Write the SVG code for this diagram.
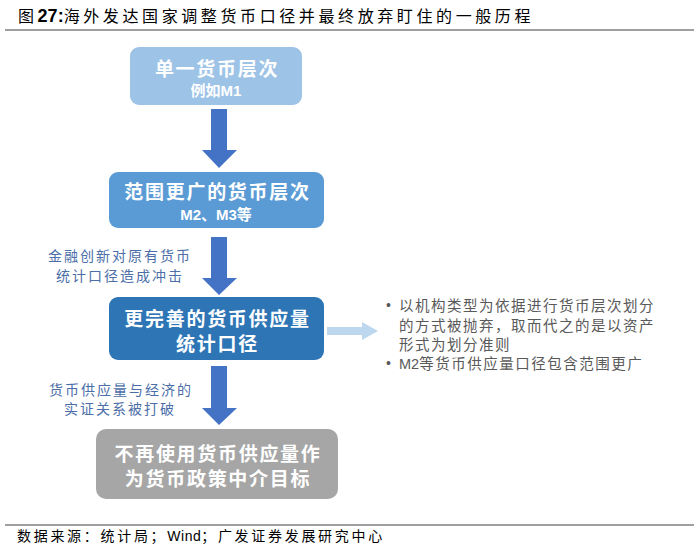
<svg xmlns="http://www.w3.org/2000/svg" width="700" height="547" viewBox="0 0 700 547">
<style>
.cjk{font-family:"Noto Sans CJK SC","Liberation Sans",sans-serif}
.title{font-size:16px;fill:#000;letter-spacing:3.6px}
.num{font-family:"Liberation Sans",Arial,sans-serif;font-weight:bold}
.box-t{font-size:19px;fill:#fff;font-weight:bold;letter-spacing:1.7px;text-anchor:middle}
.box-s{font-size:15px;fill:#fff;font-weight:bold;text-anchor:middle}
.lbl{font-size:14px;fill:#4B6EA8;letter-spacing:2px;text-anchor:middle}
.bul{font-size:14.5px;fill:#595959;letter-spacing:1.5px}
.dot{font-family:"Liberation Sans",Arial,sans-serif;font-size:14px;fill:#595959}
.src{font-size:14px;fill:#000;letter-spacing:2.7px}
.rule{stroke:#7F7F7F;stroke-width:1.3}
.down{fill:#4472C4}
</style>
<text class="cjk title" x="18" y="22">图<tspan class="num" font-size="18" letter-spacing="0">27:</tspan>海外发达国家调整货币口径并最终放弃盯住的一般历程</text>
<line class="rule" x1="5" y1="30" x2="694" y2="30"/>

<g id="connectors">
<polygon class="down" points="211,109 227,109 227,150 237,150 219,168 202,150 211,150"/>
<polygon class="down" points="211,237 227,237 227,278 237,278 219,295 202,278 211,278"/>
<polygon class="down" points="211,366 227,366 227,408 237,408 219,425 202,408 211,408"/>
<polygon fill="#BDD7EE" points="327,327 362,327 362,322 378,331 362,340 362,335 327,335"/>
<text class="cjk lbl" x="120" y="261">金融创新对原有货币</text>
<text class="cjk lbl" x="120" y="281">统计口径造成冲击</text>
<text class="cjk lbl" x="121" y="395">货币供应量与经济的</text>
<text class="cjk lbl" x="120" y="414">实证关系被打破</text>
</g>

<g id="node1">
<rect x="130" y="47" width="172" height="58" rx="9" fill="#9DC3E6"/>
<text class="cjk box-t" x="217" y="76">单一货币层次</text>
<text class="cjk box-s" x="216" y="96">例如<tspan class="num">M1</tspan></text>
</g>
<g id="node2">
<rect x="109" y="172" width="215" height="56" rx="9" fill="#5B9BD5"/>
<text class="cjk box-t" x="217.5" y="199">范围更广的货币层次</text>
<text class="cjk box-s" x="216" y="220"><tspan class="num">M2</tspan>、<tspan class="num">M3</tspan>等</text>
</g>
<g id="node3">
<rect x="109" y="297" width="215" height="63" rx="9" fill="#2E75B6"/>
<text class="cjk box-t" x="217.5" y="326">更完善的货币供应量</text>
<text class="cjk box-t" x="217.5" y="351">统计口径</text>
</g>
<g id="node4">
<rect x="96" y="429" width="242" height="70" rx="10" fill="#A6A6A6"/>
<text class="cjk box-t" x="218" y="461">不再使用货币供应量作</text>
<text class="cjk box-t" x="218" y="486">为货币政策中介目标</text>
</g>

<g id="notes">
<text class="dot" x="386" y="310">•</text>
<text class="cjk bul" x="399" y="311">以机构类型为依据进行货币层次划分</text>
<text class="cjk bul" x="399" y="331">的方式被抛弃，取而代之的是以资产</text>
<text class="cjk bul" x="399" y="350">形式为划分准则</text>
<text class="dot" x="386" y="368">•</text>
<text class="cjk bul" x="399" y="369"><tspan font-family="Liberation Sans,Arial,sans-serif" letter-spacing="0">M2</tspan>等货币供应量口径包含范围更广</text>
</g>

<line class="rule" x1="5" y1="525" x2="694" y2="525"/>
<text class="cjk src" x="17" y="541">数据来源：统计局；<tspan font-family="Liberation Sans,Arial,sans-serif" letter-spacing="0.5">Wind</tspan>；广发证券发展研究中心</text>
</svg>
